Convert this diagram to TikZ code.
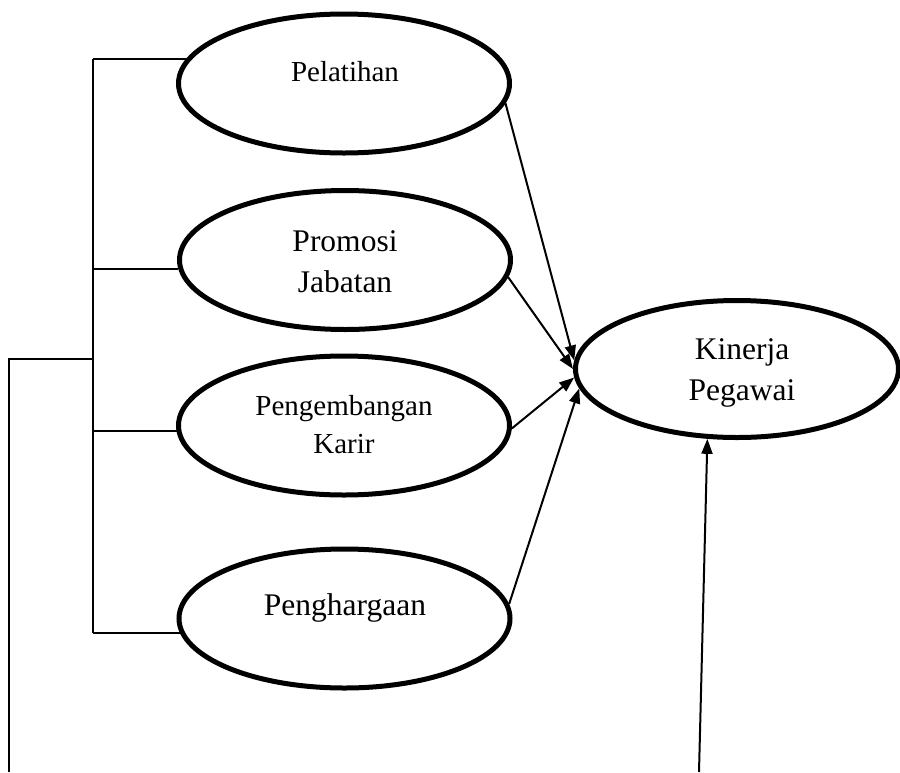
\documentclass[tikz,border=0pt]{standalone}
\usepackage{fontspec}
\setmainfont{Liberation Serif}
\usetikzlibrary{shapes.geometric,arrows.meta}
\begin{document}
\begin{tikzpicture}[x=1pt,y=-1pt,
  oval/.style={draw,ellipse,line width=5pt,minimum width=331pt,minimum height=139pt,inner sep=0pt},
  lbl/.style={anchor=base,inner sep=0pt},
  big/.style={font=\fontsize{31.5}{36}\selectfont},
  small/.style={font=\fontsize{29}{34}\selectfont},
  arr/.style={line width=2pt,-{Triangle[length=15pt,width=11pt]}},
  brack/.style={line width=2pt}]
\useasboundingbox (0,0) rectangle (900,772);
% ellipses
\node[oval] (pel) at (344,83.5) {};
\node[oval] (pro) at (345,260) {};
\node[oval] (pen) at (344,425.5) {};
\node[oval] (phg) at (344.5,618.5) {};
\node[oval,minimum width=323pt,minimum height=137pt] (kin) at (737,369) {};
% texts
\node[lbl,small] (tpel) at (345,81) {Pelatihan};
\node[lbl,big] (tpro1) at (345,251) {Promosi};
\node[lbl,big] (tpro2) at (345,292) {Jabatan};
\node[lbl,small] (tpen1) at (344,415) {Pengembangan};
\node[lbl,small] (tpen2) at (344,453) {Karir};
\node[lbl,big] (tphg) at (345,615) {Penghargaan};
\node[lbl,big] (tkin1) at (742,359) {Kinerja};
\node[lbl,big] (tkin2) at (742,400) {Pegawai};
% bracket
\coordinate (brk) at (93,359);
\coordinate (lt) at (9,359);
\coordinate (lb) at (9,772);
\coordinate (bt) at (699,772);
\draw[brack] (pel.171 -| brk) -- (phg.185 -| brk);
\draw[brack] (pel.171) -- (pel.171 -| brk);
\draw[brack] (pro.183) -- (pro.183 -| brk);
\draw[brack] (pen.182) -- (pen.182 -| brk);
\draw[brack] (phg.185) -- (phg.185 -| brk);
\draw[brack] (lb) -- (lt) -- (brk);
% arrows
\draw[arr] (pel.-7) -- (kin.177);
\draw[arr] (pro.-6) -- (kin.180);
\draw[arr] (pen.-1) -- (kin.183);
\draw[arr] (phg.5.5) -- (kin.187);
\draw[arr] (bt) -- (kin.247);
\end{tikzpicture}
\end{document}
